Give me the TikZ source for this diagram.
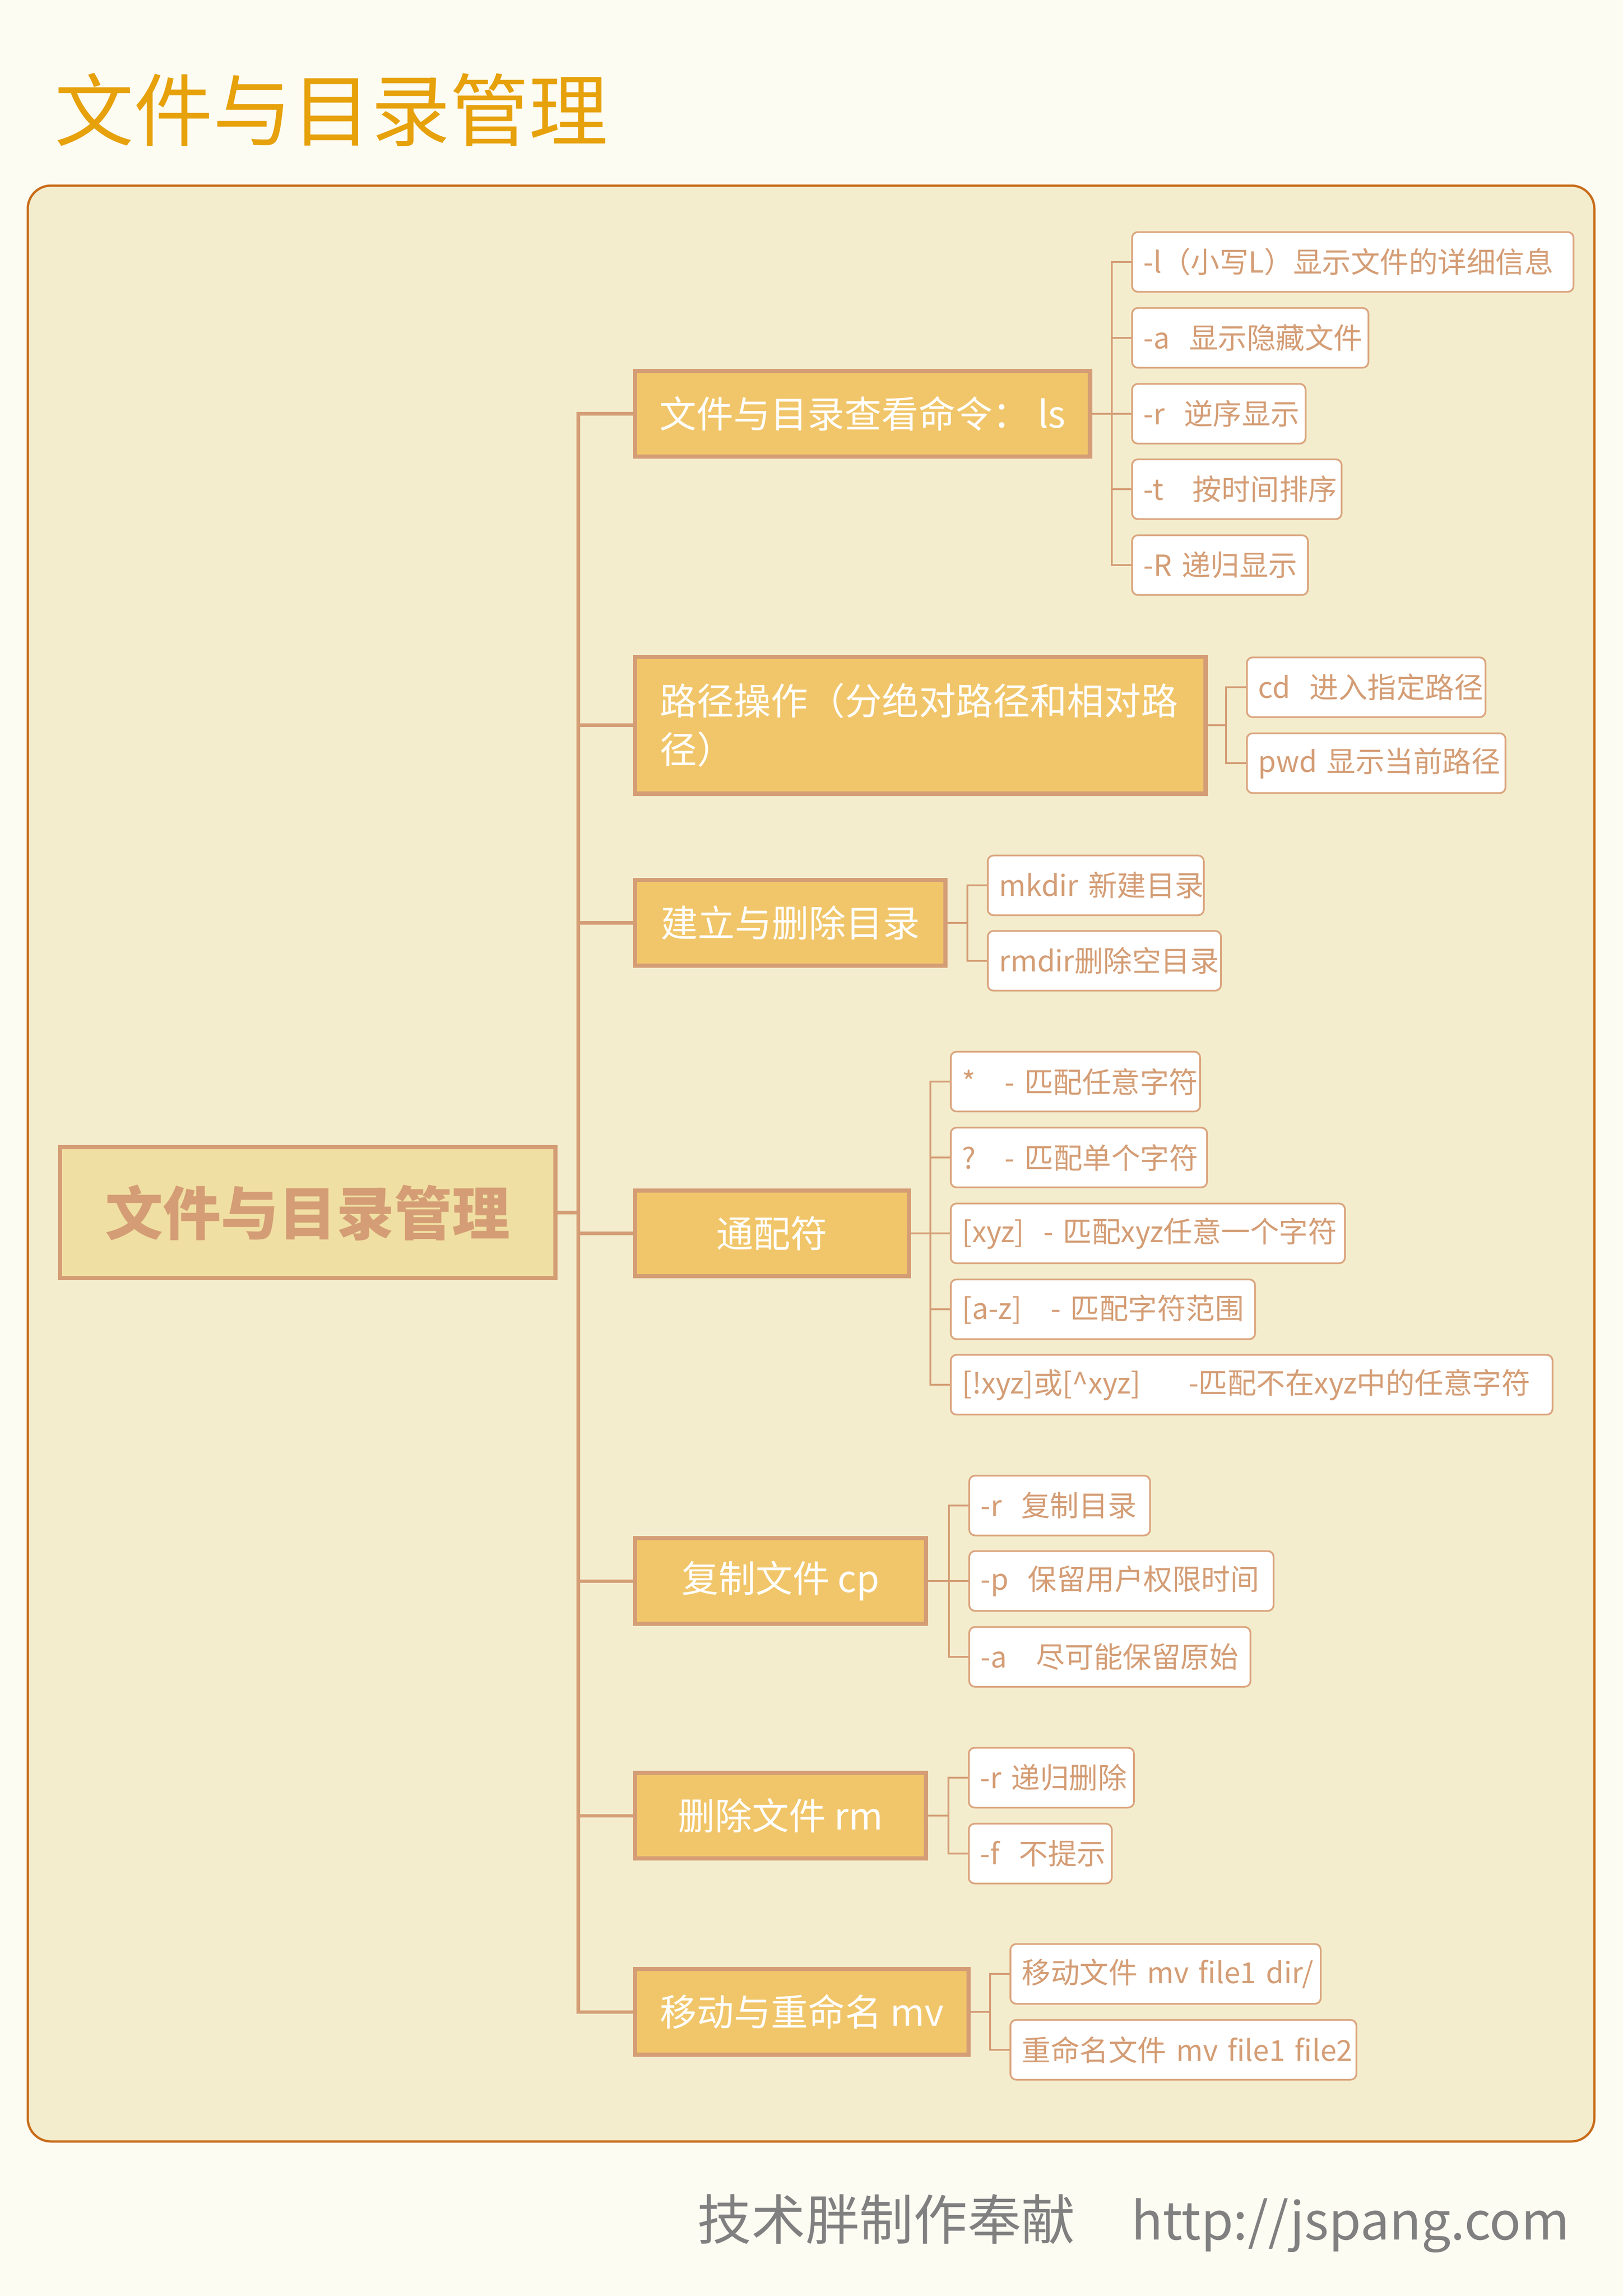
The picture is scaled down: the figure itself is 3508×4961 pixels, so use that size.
\documentclass[tikz,border=0pt]{standalone}
\usepackage{fontspec}
\setmainfont{Noto Sans CJK SC}
\exhyphenpenalty=10000
\hyphenpenalty=10000
\definecolor{pagebg}{HTML}{FDFCF3}
\definecolor{panelbg}{HTML}{F3EDCE}
\definecolor{panelline}{HTML}{C96D1A}
\definecolor{titlecol}{HTML}{E6A10B}
\definecolor{tan}{HTML}{D49D75}
\definecolor{leafline}{HTML}{DBA57E}
\definecolor{rootbg}{HTML}{F0DFA2}
\definecolor{gold}{HTML}{F1C66A}
\definecolor{footgray}{HTML}{808080}
\begin{document}
\begin{tikzpicture}[x=0.24pt, y=-0.24pt,
    trunk/.style={draw=tan, line width=1.7pt},
    twig/.style={draw=tan, line width=0.9pt},
    rootbox/.style={draw=tan, line width=2.2pt, fill=rootbg, text=tan, anchor=west,
        font=\fontsize{30}{36}\selectfont\bfseries, minimum width=257pt, minimum height=68pt},
    branch/.style={draw=tan, line width=2.2pt, fill=gold, text=white, anchor=west,
        font=\fontsize{19.2}{25.2}\selectfont, minimum height=44.5pt},
    leaf/.style={draw=leafline, line width=0.9pt, fill=white, rounded corners=3pt, text=tan,
        font=\fontsize{15}{18}\selectfont, anchor=west, minimum height=31pt,
        inner xsep=6pt, inner ysep=0pt, align=left, text width=#1}]
    % Page and panel
    \fill[pagebg] (0,0) rectangle (3508,4961);
    \useasboundingbox (0,0) rectangle (3508,4961);
    \draw[panelline, fill=panelbg, line width=1.2pt, rounded corners=12pt] (60,401) rectangle (3446,4627);

    % Title and footer
    \node[anchor=base west, inner sep=0, text=titlecol, font=\fontsize{41}{49}\selectfont] (title) at (118,302) {文件与目录管理};
    \node[anchor=base west, inner sep=0, text=footgray, font=\fontsize{28}{34}\selectfont] (foot) at (1507,4839) {技术胖制作奉献\hspace{29pt}{\fontsize{27}{34}\selectfont http://jspang.com}};

    % Root and branches
    \node[rootbox] (root) at (125,2620) {文件与目录管理};
    \node[branch, minimum width=236pt] (ls) at (1368,894) {文件与目录查看命令： ls};
    \node[branch, minimum width=296pt, minimum height=71pt, text width=270pt, align=left] (path) at (1368,1567) {路径操作（分绝对路径和相对路\\径）};
    \node[branch, minimum width=161pt] (dir) at (1368,1994) {建立与删除目录};
    \node[branch, minimum width=142pt] (wild) at (1368,2665) {通配符};
    \node[branch, minimum width=151pt] (cp) at (1368,3416) {复制文件 cp};
    \node[branch, minimum width=151pt] (rm) at (1368,3923) {删除文件 rm};
    \node[branch, minimum width=173pt] (mv) at (1368,4347) {移动与重命名 mv};

    % Leaves of ls
    \node[leaf=217pt] (ls1) at (2445,566) {-l（小写L）显示文件的详细信息};
    \node[leaf=110.6pt] (ls2) at (2445,730) {-a~~显示隐藏文件};
    \node[leaf=78pt] (ls3) at (2445,894) {-r~~逆序显示};
    \node[leaf=96.7pt] (ls4) at (2445,1057) {-t~~~按时间排序};
    \node[leaf=79.2pt] (ls5) at (2445,1221) {-R~递归显示};
    % Leaves of path
    \node[leaf=111.8pt] (path1) at (2693,1485) {cd~~进入指定路径};
    \node[leaf=122.2pt] (path2) at (2693,1649) {pwd~显示当前路径};
    % Leaves of dir
    \node[leaf=100.1pt] (dir1) at (2133,1913) {mkdir~新建目录};
    \node[leaf=109pt] (dir2) at (2133,2076) {rmdir删除空目录};
    % Leaves of wild
    \node[leaf=117.4pt] (wild1) at (2053,2337) {*~~~-~匹配任意字符};
    \node[leaf=121pt] (wild2) at (2053,2501) {?~~~-~匹配单个字符};
    \node[leaf=192.5pt] (wild3) at (2053,2665) {[xyz]~~-~匹配xyz任意一个字符};
    \node[leaf=145.9pt] (wild4) at (2053,2829) {[a-z]~~~-~匹配字符范围};
    \node[leaf=300.2pt] (wild5) at (2053,2992) {[!xyz]或[\textasciicircum xyz]~~~~~-匹配不在xyz中的任意字符};
    % Leaves of cp
    \node[leaf=81.8pt] (cp1) at (2093,3253) {-r~~复制目录};
    \node[leaf=145.9pt] (cp2) at (2093,3416) {-p~~保留用户权限时间};
    \node[leaf=133.9pt] (cp3) at (2093,3580) {-a~~~尽可能保留原始};
    % Leaves of rm
    \node[leaf=73.7pt] (rm1) at (2092,3841) {-r~递归删除};
    \node[leaf=62.2pt] (rm2) at (2092,4005) {-f~~不提示};
    % Leaves of mv
    \node[leaf=149pt] (mv1) at (2182,4265) {移动文件~mv~file1~dir/};
    \node[leaf=167.5pt] (mv2) at (2182,4429) {重命名文件~mv~file1~file2};

    % Main trunk
    \coordinate (mt) at (1250,2620);
    \draw[trunk] (root.east) -- (mt);
    \foreach \b in {ls,path,dir,wild,cp,rm,mv}
        \draw[trunk] (mt) |- (\b.west);

    % Twigs to the leaves
    \coordinate (lst) at (2403,894);
    \coordinate (patht) at (2650,1567);
    \coordinate (dirt) at (2091,1994);
    \coordinate (wildt) at (2011,2665);
    \coordinate (cpt) at (2051,3416);
    \coordinate (rmt) at (2050,3923);
    \coordinate (mvt) at (2140,4347);
    \foreach \b/\n in {ls/5,path/2,dir/2,wild/5,cp/3,rm/2,mv/2} {
        \draw[twig] (\b.east) -- (\b t);
        \foreach \i in {1,...,\n}
            \draw[twig] (\b t) |- (\b\i.west);
    }
\end{tikzpicture}
\end{document}
